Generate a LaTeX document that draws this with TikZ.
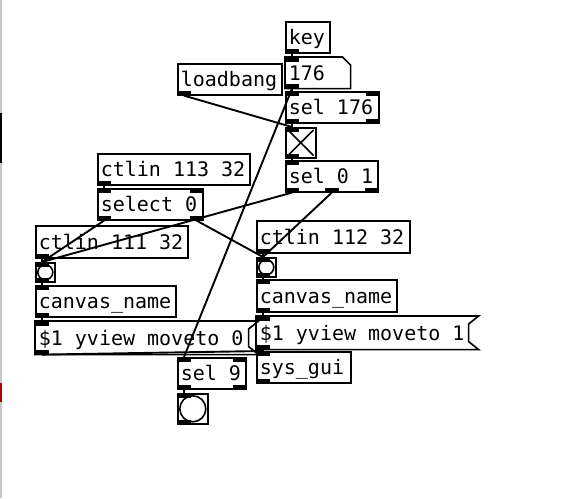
\documentclass[tikz,border=0pt]{standalone}
\usepackage{fontspec}
\newfontfamily\pdfont{DejaVu Sans Mono}[Scale=2.0]

\begin{document}
\begin{tikzpicture}[
  x=1pt, y=-1pt,
  obj/.style={draw, line width=1.6pt, anchor=north west, inner xsep=3pt, inner ysep=0pt, minimum height=31pt, text height=18pt, text depth=3pt, align=flush left, text width=#1, font=\pdfont, execute at begin node={\spaceskip=0.602em\relax}},
  msg/.style={obj=#1, draw=none, minimum height=32pt},
  gui/.style={draw, line width=1.6pt, anchor=north west, inner sep=0pt},
  outline/.style={line width=1.6pt, line join=miter},
  wire/.style={line width=1.9pt},
  port/.style={fill=black}
]
\useasboundingbox[fill=white] (0,0) rectangle (570,498);

% window edge
\fill[gray!45] (0,0) rectangle (2,498);
\fill[black] (0,113) rectangle (1.5,163);
\fill[red!70!black] (0,383) rectangle (1.5,402);

% Key input
\node[obj=38pt] (key) at (285,21) {key};
\node[msg=58pt, minimum height=30pt] (num) at (285,57) {176};
\node[obj=87pt] (sel176) at (285,91) {sel 176};
\node[gui, minimum size=30pt] (tgl) at (285,127) {};
\node[obj=86pt] (sel01) at (285,160) {sel 0 1};
\node[obj=98pt] (loadbang) at (177,63) {loadbang};

% Controllers
\node[obj=146pt] (ctlin113) at (97,153) {ctlin 113 32};
\node[obj=99pt] (select0) at (97,188) {select 0};
\node[obj=146pt, minimum height=32pt] (ctlin111) at (35,225) {ctlin 111 32};
\node[obj=147pt, minimum height=32pt] (ctlin112) at (256,220) {ctlin 112 32};

% Left column
\node[gui, minimum size=19pt] (bngL) at (35,262) {};
\node[obj=134pt] (cnameL) at (35,285) {canvas\_name};
\node[msg=206pt] (msgL) at (35,321) {\$1 yview moveto 0};
\node[obj=62pt] (sel9) at (177,357) {sel 9};
\node[gui, minimum size=30pt] (bngB) at (177,393) {};

% Right column
\node[gui, minimum size=19pt] (bngR) at (256,257) {};
\node[obj=134pt, minimum height=32pt] (cnameR) at (256,279) {canvas\_name};
\node[msg=205pt] (msgR) at (256,316) {\$1 yview moveto 1};
\node[obj=88pt] (sysgui) at (256,351) {sys\_gui};

% Box outlines
\draw[outline] (num.south west) -- (num.north west) -- ([xshift=-8pt]num.north east) -- ([yshift=-8pt]num.north east) -- (num.south east) -- cycle;
\draw[outline] (msgL.north west) -- ([xshift=10pt]msgL.north east) -- ([yshift=-8pt]msgL.north east) -- ([yshift=8pt]msgL.south east) -- ([xshift=10pt]msgL.south east) -- (msgL.south west) -- cycle;
\draw[outline] (msgR.north west) -- ([xshift=10pt]msgR.north east) -- ([yshift=-8pt]msgR.north east) -- ([yshift=8pt]msgR.south east) -- ([xshift=10pt]msgR.south east) -- (msgR.south west) -- cycle;
\draw[outline] ([shift={(3pt,-3pt)}]tgl.north west) -- ([shift={(-3pt,3pt)}]tgl.south east);
\draw[outline] ([shift={(-3pt,-3pt)}]tgl.north east) -- ([shift={(3pt,3pt)}]tgl.south west);
\draw[outline] (bngL.center) circle (7.5pt);
\draw[outline] (bngR.center) circle (7.5pt);
\draw[outline] (bngB.center) circle (13pt);

% Inlets and outlets
\foreach \n in {num, sel176, tgl, sel01, select0, bngL, bngR, bngB, cnameL, cnameR, msgL, msgR, sel9, sysgui}
  \fill[port] (\n.north west) rectangle ++(14pt,-4.5pt);
\foreach \n in {sel176, select0, sel9}
  \fill[port] (\n.north east) rectangle ++(-14pt,-4.5pt);
\foreach \n in {key, num, loadbang, sel176, tgl, sel01, ctlin113, select0, ctlin111, ctlin112, bngL, bngR, cnameL, cnameR, msgL, msgR, sel9, bngB, sysgui}
  \fill[port] (\n.south west) rectangle ++(14pt,4.5pt);
\foreach \n in {sel176, sel01, select0, sel9}
  \fill[port] (\n.south east) rectangle ++(-14pt,4.5pt);
\fill[port] ([xshift=-7pt]sel01.south) rectangle ++(14pt,4.5pt);

% Wires
\draw[wire] ([xshift=7pt]key.south west) -- ([xshift=7pt]num.north west);
\draw[wire] ([xshift=7pt]num.south west) -- ([xshift=7pt]sel176.north west);
\draw[wire] ([xshift=7pt]num.south west) -- ([xshift=7pt]sel9.north west);
\draw[wire] ([xshift=7pt]sel176.south west) -- ([xshift=7pt]tgl.north west);
\draw[wire] ([xshift=7pt]loadbang.south west) -- ([xshift=7pt]tgl.north west);
\draw[wire] ([xshift=7pt]tgl.south west) -- ([xshift=7pt]sel01.north west);
\draw[wire] ([xshift=7pt]sel01.south west) -- ([xshift=7pt]bngL.north west);
\draw[wire] (sel01.south) -- ([xshift=7pt]bngR.north west);
\draw[wire] ([xshift=7pt]ctlin113.south west) -- ([xshift=7pt]select0.north west);
\draw[wire] ([xshift=7pt]select0.south west) -- ([xshift=7pt]bngL.north west);
\draw[wire] ([xshift=-7pt]select0.south east) -- ([xshift=7pt]bngR.north west);
\draw[wire] ([xshift=7pt]ctlin111.south west) -- ([xshift=7pt]bngL.north west);
\draw[wire] ([xshift=7pt]ctlin112.south west) -- ([xshift=7pt]bngR.north west);
\draw[wire] ([xshift=7pt]bngL.south west) -- ([xshift=7pt]cnameL.north west);
\draw[wire] ([xshift=7pt]cnameL.south west) -- ([xshift=7pt]msgL.north west);
\draw[wire] ([xshift=7pt]msgL.south west) -- ([xshift=7pt]sysgui.north west);
\draw[wire] ([xshift=7pt]bngR.south west) -- ([xshift=7pt]cnameR.north west);
\draw[wire] ([xshift=7pt]cnameR.south west) -- ([xshift=7pt]msgR.north west);
\draw[wire] ([xshift=7pt]msgR.south west) -- ([xshift=7pt]sysgui.north west);
\draw[wire] ([xshift=7pt]sel9.south west) -- ([xshift=7pt]bngB.north west);

\end{tikzpicture}
\end{document}
